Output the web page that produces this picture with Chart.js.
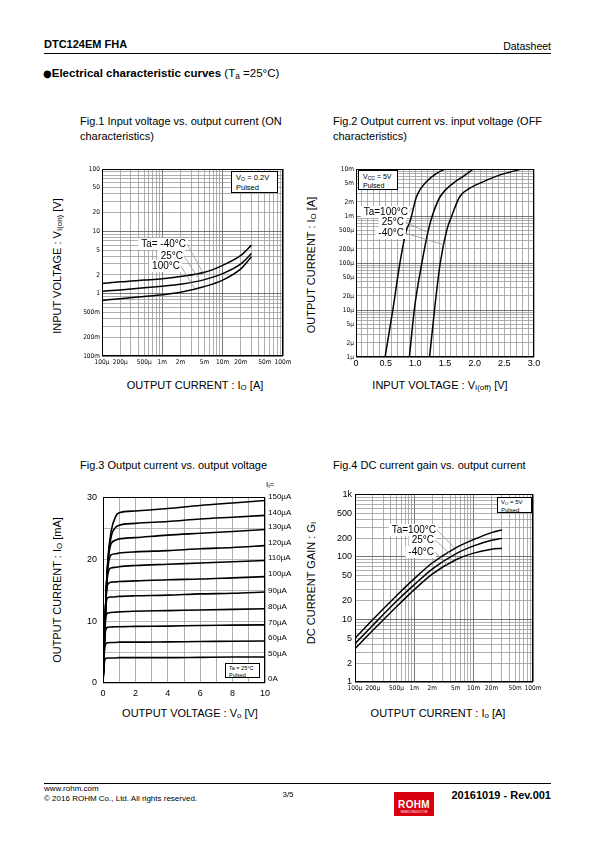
<!DOCTYPE html>
<html>
<head>
<meta charset="utf-8">
<script src="https://cdn.jsdelivr.net/npm/chart.js@4.4.0/dist/chart.umd.min.js"></script>
<style>
body{margin:0;width:595px;height:842px;position:relative;background:#fff;font-family:"Liberation Sans",Arial,sans-serif;color:#000;overflow:hidden}
.t{position:absolute;white-space:nowrap;line-height:1;transform:translate(0,-50%)}
.c{transform:translate(-50%,-50%)}
.r{transform:translate(-100%,-50%)}
.rot{transform:translate(-50%,-50%) rotate(-90deg)}
canvas{position:absolute}
.box{position:absolute;border:1.5px solid #000;background:#fff;line-height:1.3;padding:1px 0 0 4px;box-sizing:border-box;white-space:nowrap}
sub{font-size:72%;vertical-align:-0.25em;line-height:0}
.hr{position:absolute;height:1px;background:#000}
.fig{font-size:11px}
.ax{font-size:11px}
.ib{font-size:8px}
.dot{font-family:"DejaVu Sans",sans-serif;font-size:10px;font-weight:normal}
</style>
</head>
<body>
<!-- header -->
<div class="t" style="left:44px;top:44px;font-size:11px;font-weight:bold">DTC124EM FHA</div>
<div class="t r" style="left:551px;top:46px;font-size:10.5px">Datasheet</div>
<div class="hr" style="left:44px;top:53px;width:507px"></div>
<div class="t" style="left:43px;top:74px;font-size:11.5px"><span class="dot">&#9679;</span><b>Electrical characteristic curves</b> (T<sub>a</sub> =25°C)</div>

<!-- figure titles -->
<div class="t fig" style="left:80px;top:121px">Fig.1 Input voltage vs. output current (ON</div>
<div class="t fig" style="left:80px;top:136px">characteristics)</div>
<div class="t fig" style="left:333px;top:121px">Fig.2 Output current vs. input voltage (OFF</div>
<div class="t fig" style="left:333px;top:136px">characteristics)</div>
<div class="t fig" style="left:80px;top:465px">Fig.3 Output current vs. output voltage</div>
<div class="t fig" style="left:333px;top:465px">Fig.4 DC current gain vs. output current</div>

<!-- axis titles -->
<div class="t ax rot" style="left:57px;top:266px">INPUT VOLTAGE : V<sub>I(on)</sub> [V]</div>
<div class="t ax c" style="left:195px;top:385px">OUTPUT CURRENT : I<sub>O</sub> [A]</div>
<div class="t ax rot" style="left:311px;top:265px">OUTPUT CURRENT : I<sub>O</sub> [A]</div>
<div class="t ax c" style="left:440px;top:385px">INPUT VOLTAGE : V<sub>I(off)</sub> [V]</div>
<div class="t ax rot" style="left:57px;top:590px">OUTPUT CURRENT : I<sub>O</sub> [mA]</div>
<div class="t ax c" style="left:190px;top:713px">OUTPUT VOLTAGE : V<sub>o</sub> [V]</div>
<div class="t ax rot" style="left:311px;top:583px">DC CURRENT GAIN : G<sub>I</sub></div>
<div class="t ax c" style="left:438px;top:713px">OUTPUT CURRENT : I<sub>o</sub> [A]</div>

<canvas id="fig1"></canvas>
<canvas id="fig2"></canvas>
<canvas id="fig3"></canvas>
<canvas id="fig4"></canvas>

<!-- condition boxes -->
<div class="box" style="left:231px;top:171px;width:47px;height:22px;font-size:7.5px">V<sub>O</sub> = 0.2V<br>Pulsed</div>
<div class="box" style="left:358px;top:170px;width:40px;height:20px;font-size:7px">V<sub>CC</sub> = 5V<br>Pulsed</div>
<div class="box" style="left:225px;top:663px;width:35px;height:15px;font-size:5.5px;padding-left:3px">Ta = 25°C<br>Pulsed</div>
<div class="box" style="left:497px;top:497px;width:35px;height:16px;font-size:6px;padding-left:3px">V<sub>O</sub> = 5V<br>Pulsed</div>

<div id="ibnames"></div>

<!-- footer -->
<div class="hr" style="left:44px;top:783px;width:507px"></div>
<div class="t" style="left:44px;top:789px;font-size:8px">www.rohm.com</div>
<div class="t" style="left:44px;top:799px;font-size:8px">© 2016 ROHM Co., Ltd. All rights reserved.</div>
<div class="t c" style="left:288px;top:795px;font-size:8px">3/5</div>
<div style="position:absolute;left:394px;top:792px;width:40px;height:24px;background:#d7000f;color:#fff;text-align:center">
  <div style="font-weight:bold;font-size:10px;line-height:1;margin-top:8px;letter-spacing:0.3px">ROHM</div>
  <div style="font-size:3px;line-height:1;margin-top:1px">SEMICONDUCTOR</div>
</div>
<div class="t r" style="left:551px;top:795px;font-size:11px;font-weight:bold">20161019 - Rev.001</div>

<script>
/* ---------- data ---------- */
// Fig.1  input voltage (V) vs output current (A)
var ic1 = [1e-4, 2e-4, 5e-4, 1e-3, 2e-3, 5e-3, 1e-2, 2e-2, 3e-2];
var vin1M40 = [1.45, 1.55, 1.65, 1.73, 1.88, 2.2, 2.85, 4.1, 6.0];
var vin1T25 = [1.09, 1.15, 1.24, 1.32, 1.42, 1.68, 2.1, 3.0, 4.4];
var vin1T100 = [0.78, 0.83, 0.9, 0.96, 1.05, 1.3, 1.65, 2.5, 3.9];
var fig1XTickVals = [1e-4, 2e-4, 5e-4, 1e-3, 2e-3, 5e-3, 1e-2, 2e-2, 5e-2, 1e-1];
var fig1XTickText = ['100µ', '200µ', '500µ', '1m', '2m', '5m', '10m', '20m', '50m', '100m'];
var fig1YTickVals = [0.1, 0.2, 0.5, 1, 2, 5, 10, 20, 50, 100];
var fig1YTickText = ['100m', '200m', '500m', '1', '2', '5', '10', '20', '50', '100'];

// Fig.2  output current (A) vs input voltage (V)
var vi2T100 = [0.49, 0.63, 0.74, 0.85, 0.91, 1.02, 1.19, 1.36, 1.5];
var io2T100 = [1e-6, 1.2e-5, 1e-4, 5e-4, 7.6e-4, 2.6e-3, 5.4e-3, 8.1e-3, 1e-2];
var vi2T25 = [0.9, 0.99, 1.11, 1.22, 1.3, 1.42, 1.64, 1.81, 1.98];
var io2T25 = [1e-6, 1.2e-5, 1e-4, 5e-4, 1.14e-3, 2.6e-3, 5e-3, 7e-3, 1e-2];
var vi2M40 = [1.24, 1.33, 1.42, 1.53, 1.61, 1.75, 1.92, 2.15, 2.43, 2.79];
var io2M40 = [1e-6, 1.2e-5, 1e-4, 5e-4, 9.8e-4, 2.6e-3, 3.9e-3, 5.4e-3, 7.5e-3, 1e-2];
var fig2XTickVals = [0, 0.5, 1, 1.5, 2, 2.5, 3];
var fig2XTickText = ['0', '0.5', '1.0', '1.5', '2.0', '2.5', '3.0'];
var fig2YTickVals = [1e-6, 2e-6, 5e-6, 1e-5, 2e-5, 5e-5, 1e-4, 2e-4, 5e-4, 1e-3, 2e-3, 5e-3, 1e-2];
var fig2YTickText = ['1µ', '2µ', '5µ', '10µ', '20µ', '50µ', '100µ', '200µ', '500µ', '1m', '2m', '5m', '10m'];

// Fig.3  output current (mA) vs output voltage (V), one curve per input current
var vo3 = [0, 0.1, 0.2, 0.3, 0.5, 0.8, 1, 2, 4, 6, 8, 10];
var io3_150 = [0, 8, 15, 20, 24.5, 27.0, 27.5, 27.8, 28.2, 28.7, 29.1, 29.5];
var io3_140 = [0, 8, 15, 19.5, 23.6, 25.2, 25.5, 25.8, 26.1, 26.5, 26.8, 27.1];
var io3_130 = [0, 8, 15, 19.2, 22.5, 23.1, 23.3, 23.5, 23.9, 24.2, 24.5, 24.8];
var io3_120 = [0, 8, 14.8, 18.6, 20.7, 20.9, 21.0, 21.2, 21.4, 21.7, 21.9, 22.2];
var io3_110 = [0, 8, 14.5, 17.6, 18.6, 18.7, 18.8, 19.0, 19.2, 19.4, 19.6, 19.8];
var io3_100 = [0, 8, 14.0, 16.0, 16.3, 16.35, 16.4, 16.5, 16.7, 16.8, 17.0, 17.2];
var io3_90 = [0, 7.8, 13.0, 13.8, 13.9, 13.95, 14.0, 14.1, 14.2, 14.4, 14.5, 14.7];
var io3_80 = [0, 7.5, 11.0, 11.3, 11.4, 11.45, 11.5, 11.6, 11.7, 11.8, 11.9, 12.0];
var io3_70 = [0, 7.0, 8.8, 9.0, 9.05, 9.1, 9.1, 9.15, 9.2, 9.3, 9.35, 9.4];
var io3_60 = [0, 5.5, 6.4, 6.5, 6.55, 6.55, 6.6, 6.6, 6.65, 6.7, 6.75, 6.8];
var io3_50 = [0, 3.6, 4.0, 4.05, 4.05, 4.05, 4.1, 4.1, 4.1, 4.15, 4.2, 4.2];
var io3_0 = [0, 0, 0, 0, 0, 0, 0, 0, 0, 0, 0, 0];
var ibNames = ['150µA', '140µA', '130µA', '120µA', '110µA', '100µA', '90µA', '80µA', '70µA', '60µA', '50µA', '0A'];
var fig3XTickVals = [0, 2, 4, 6, 8, 10];
var fig3YTickVals = [0, 10, 20, 30];

// Fig.4  DC current gain vs output current (A)
var ic4 = [1e-4, 2e-4, 5e-4, 1e-3, 2e-3, 5e-3, 1e-2, 2e-2, 3e-2];
var gi4T100 = [5, 10, 24, 45, 80, 140, 190, 245, 270];
var gi4T25 = [4.1, 8.1, 19.5, 36, 64, 112, 150, 185, 198];
var gi4M40 = [3.4, 6.7, 16, 30, 53, 90, 115, 133, 138];
var fig4XTickVals = fig1XTickVals;
var fig4XTickText = fig1XTickText;
var fig4YTickVals = [1, 2, 5, 10, 20, 50, 100, 200, 500, 1000];
var fig4YTickText = ['1', '2', '5', '10', '20', '50', '100', '200', '500', '1k'];

/* ---------- helpers ---------- */
var narrow = '"Liberation Sans Narrow","DejaVu Sans Condensed","Liberation Sans",sans-serif';
var plain = '"Liberation Sans",Arial,sans-serif';

function pts(xs, ys){ return xs.map(function(x, i){ return {x: x, y: ys[i]}; }); }

function labeler(vals, texts){
	return function(v){
		for (var i = 0; i < vals.length; i++){
			if (Math.abs(v - vals[i]) <= Math.abs(vals[i]) * 1e-6 + 1e-12) return texts ? texts[i] : String(vals[i]);
		}
		return '';
	};
}

// grid positions 1..9 x 10^n inside [lo, hi]
function logGrid(lo, hi){
	var out = [];
	for (var e = Math.round(Math.log10(lo)); Math.pow(10, e) <= hi * 1.0001; e++){
		for (var k = 1; k <= 9; k++){
			var v = +(k * Math.pow(10, e)).toPrecision(6);
			if (v >= lo * 0.9999 && v <= hi * 1.0001) out.push(v);
		}
	}
	return out;
}
function isDecade(v){ var l = Math.log10(v); return Math.abs(l - Math.round(l)) < 1e-6; }

function curve(points, w){
	return {data: points, borderColor: '#000', borderWidth: w || 1.5, pointRadius: 0,
		showLine: true, fill: false, cubicInterpolationMode: 'monotone'};
}

// frame round the plot + temperature labels with leader lines
var notesPlugin = {
	id: 'notes',
	afterDraw: function(chart, args, opts){
		var ctx = chart.ctx, a = chart.chartArea;
		ctx.save();
		(opts.labels || []).forEach(function(l){
			var px = chart.scales.x.getPixelForValue(l.to[0]);
			var py = chart.scales.y.getPixelForValue(l.to[1]);
			ctx.font = '10px ' + plain;
			var w = ctx.measureText(l.text).width;
			var x = l.x - opts.ox, y = l.y - opts.oy;
			ctx.fillStyle = '#fff';
			ctx.fillRect(x - w - 3, y - 6, w + 5, 12);
			ctx.strokeStyle = '#888';
			ctx.lineWidth = 0.7;
			ctx.beginPath();
			ctx.moveTo(x + 1, y);
			ctx.lineTo(px, py);
			ctx.stroke();
			ctx.fillStyle = '#000';
			ctx.textAlign = 'right';
			ctx.textBaseline = 'middle';
			ctx.fillText(l.text, x, y + 0.5);
		});
		ctx.strokeStyle = '#000';
		ctx.lineWidth = 1;
		ctx.strokeRect(Math.round(a.left) + 0.5, Math.round(a.top) + 0.5,
			Math.round(a.right - a.left) - 1, Math.round(a.bottom - a.top) - 1);
		ctx.restore();
	}
};

// place a chart so its plot area lands on the given page rectangle
function makeChart(id, plot, aw, ah, xScale, yScale, datasets, labels){
	var pt = 8, pr = 18;
	var cv = document.getElementById(id);
	cv.width = aw + plot.w + pr;
	cv.height = pt + plot.h + ah;
	cv.style.left = (plot.l - aw) + 'px';
	cv.style.top = (plot.t - pt) + 'px';
	xScale.afterFit = function(s){ s.height = ah; };
	yScale.afterFit = function(s){ s.width = aw; };
	return new Chart(cv.getContext('2d'), {
		type: 'scatter',
		data: {datasets: datasets},
		options: {
			responsive: false,
			animation: false,
			events: [],
			layout: {padding: {top: pt, right: pr, left: 0, bottom: 0}},
			plugins: {
				legend: {display: false},
				tooltip: {enabled: false},
				notes: {labels: labels || [], ox: plot.l - aw, oy: plot.t - pt}
			},
			scales: {x: xScale, y: yScale}
		},
		plugins: [notesPlugin]
	});
}

function logAxis(lo, hi, vals, texts, font, pad){
	var grid = logGrid(lo, hi);
	return {
		type: 'logarithmic', min: lo, max: hi,
		afterBuildTicks: function(s){ s.ticks = grid.map(function(v){ return {value: v}; }); },
		ticks: {autoSkip: false, maxRotation: 0, minRotation: 0, padding: pad, color: '#000', font: font,
			callback: labeler(vals, texts)},
		grid: {drawTicks: false, lineWidth: 0.8,
			color: function(c){ return c.tick && isDecade(c.tick.value) ? '#555' : '#9a9a9a'; }},
		border: {display: false}
	};
}

function linAxis(lo, hi, step, vals, texts, font, pad, gridColor){
	return {
		type: 'linear', min: lo, max: hi,
		ticks: {stepSize: step, autoSkip: false, maxRotation: 0, minRotation: 0, padding: pad, color: '#000', font: font,
			callback: labeler(vals, texts)},
		grid: {drawTicks: false, lineWidth: 0.8, color: gridColor || '#9a9a9a'},
		border: {display: false}
	};
}

/* ---------- Fig.1 ---------- */
makeChart('fig1', {l: 102, t: 169, w: 181, h: 187}, 30, 16,
	logAxis(1e-4, 0.1, fig1XTickVals, fig1XTickText, {family: narrow, size: 6.5}, 2),
	logAxis(0.1, 100, fig1YTickVals, fig1YTickText, {family: narrow, size: 6.5}, 2),
	[curve(pts(ic1, vin1M40)), curve(pts(ic1, vin1T25)), curve(pts(ic1, vin1T100))],
	[
		{text: 'Ta= -40°C', x: 186, y: 244, to: [4.7e-3, 2.17]},
		{text: '25°C', x: 183, y: 256, to: [4.2e-3, 1.62]},
		{text: '100°C', x: 180, y: 266, to: [3.4e-3, 1.22]}
	]);

/* ---------- Fig.2 ---------- */
makeChart('fig2', {l: 356, t: 169, w: 178, h: 188}, 30, 16,
	linAxis(0, 3, 0.1, fig2XTickVals, fig2XTickText, {family: plain, size: 9}, 1),
	logAxis(1e-6, 1e-2, fig2YTickVals, fig2YTickText, {family: narrow, size: 6.5}, 2),
	[curve(pts(vi2T100, io2T100)), curve(pts(vi2T25, io2T25)), curve(pts(vi2M40, io2M40))],
	[
		{text: 'Ta=100°C', x: 408, y: 212, to: [0.95, 1.5e-3]},
		{text: '25°C', x: 404, y: 222, to: [1.19, 4.6e-4]},
		{text: '-40°C', x: 404, y: 233, to: [1.5, 2.4e-4]}
	]);

/* ---------- Fig.3 ---------- */
makeChart('fig3', {l: 103, t: 494, w: 162, h: 189}, 30, 18,
	linAxis(0, 10, 1, fig3XTickVals, null, {family: plain, size: 9}, 5),
	linAxis(0, 30, 5, fig3YTickVals, null, {family: plain, size: 9}, 6, '#aaa'),
	[io3_150, io3_140, io3_130, io3_120, io3_110, io3_100, io3_90, io3_80, io3_70, io3_60, io3_50, io3_0]
		.map(function(ys){ return curve(pts(vo3, ys), 1.6); }),
	[]);

// right-hand input current names of Fig.3
(function(){
	var tops = [497, 513, 527, 543, 558, 574, 591, 607, 623, 638, 654, 679];
	var html = '<div class="t ib" style="left:266px;top:485px">I<sub>I</sub>=</div>';
	ibNames.forEach(function(n, i){
		html += '<div class="t ib" style="left:268px;top:' + tops[i] + 'px">' + n + '</div>';
	});
	document.getElementById('ibnames').innerHTML = html;
})();

/* ---------- Fig.4 ---------- */
makeChart('fig4', {l: 355, t: 494, w: 178, h: 188}, 30, 16,
	logAxis(1e-4, 0.1, fig4XTickVals, fig4XTickText, {family: narrow, size: 6.5}, 2),
	logAxis(1, 1000, fig4YTickVals, fig4YTickText, {family: plain, size: 9}, 3),
	[curve(pts(ic4, gi4T100)), curve(pts(ic4, gi4T25)), curve(pts(ic4, gi4M40))],
	[
		{text: 'Ta=100°C', x: 436, y: 530, to: [4.8e-3, 138]},
		{text: '25°C', x: 434, y: 540, to: [4.4e-3, 103]},
		{text: '-40°C', x: 434, y: 552, to: [3.5e-3, 75]}
	]);
</script>
</body>
</html>
